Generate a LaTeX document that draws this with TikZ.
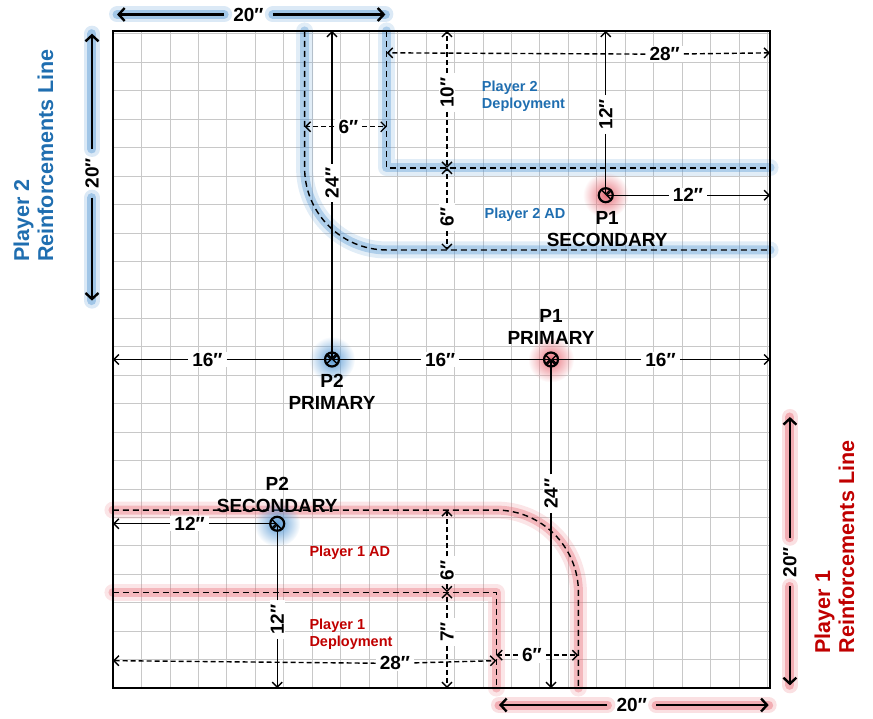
\documentclass[tikz,border=0pt]{standalone}
\usepackage{fontspec}
\setmainfont{Liberation Sans}
\usetikzlibrary{arrows.meta,fadings}
\tikzfading[name=glowfade,inner color=transparent!0,outer color=transparent!100]
\definecolor{p2blue}{HTML}{1F6EB0}
\definecolor{p1red}{HTML}{C00000}
\definecolor{glowblue}{HTML}{5B9BD5}
\definecolor{glowred}{HTML}{E8707A}
\definecolor{gridgray}{HTML}{C8C8C8}
\tikzset{
  zoneB/.style={draw=black,line width=1.4pt,dash pattern=on 6pt off 4pt,
    preaction={draw=glowblue,solid,line width=17pt,opacity=.18,line cap=round,line join=round},
    preaction={draw=glowblue,solid,line width=9pt,opacity=.38,line cap=round,line join=round}},
  zoneR/.style={draw=black,line width=1.4pt,dash pattern=on 6pt off 4pt,
    preaction={draw=glowred,solid,line width=17pt,opacity=.18,line cap=round,line join=round},
    preaction={draw=glowred,solid,line width=9pt,opacity=.38,line cap=round,line join=round}},
  dimS/.style={draw=black,line width=1.4pt,-{Straight Barb[length=5pt,width=10pt]}},
  dimD/.style={dimS,dash pattern=on 5pt off 3pt},
  reinB/.style={draw=black,line width=2.4pt,-{Straight Barb[length=6pt,width=13pt]},
    preaction={arrows=-,draw=glowblue,line width=16pt,opacity=.22,line cap=round},
    preaction={arrows=-,draw=glowblue,line width=9pt,opacity=.45,line cap=round}},
  reinR/.style={draw=black,line width=2.4pt,-{Straight Barb[length=6pt,width=13pt]},
    preaction={arrows=-,draw=glowred,line width=16pt,opacity=.22,line cap=round},
    preaction={arrows=-,draw=glowred,line width=9pt,opacity=.45,line cap=round}},
  lblD/.style={font=\fontsize{19}{21}\selectfont\bfseries,fill=white,inner sep=1pt,inner xsep=4pt},
  lblR/.style={font=\fontsize{19}{21}\selectfont\bfseries,inner sep=1pt,inner xsep=9pt},
  zoneTxt/.style={font=\fontsize{14.5}{17}\selectfont\bfseries,align=left,anchor=west},
  ptTxt/.style={font=\fontsize{19}{22}\selectfont\bfseries,align=center,inner sep=1pt},
  reinTxt/.style={font=\fontsize{21.5}{24}\selectfont\bfseries,align=left,rotate=90},
  obj/.style={circle,draw=black,line width=2.2pt,minimum size=14pt,inner sep=0pt},
  glowdot/.style={circle,fill=#1,minimum size=46pt,inner sep=0pt,path fading=glowfade},
}
\begin{document}
\begin{tikzpicture}[x=13.69pt,y=13.69pt]
  \useasboundingbox (-8.25,-2.26) rectangle (55.52,50.26);
  % table and grid
  \draw[gridgray,line width=0.6pt] (0,0) grid (48,48);

  % deployment and AD lines
  \draw[zoneB] (20,48) -- (20,38) -- (48,38);
  \draw[zoneB] (14,48) -- (14,38) arc (180:270:6) -- (48,32);
  \draw[zoneR] (0,7) -- (28,7) -- (28,0);
  \draw[zoneR] (0,13) -- (28,13) arc (90:0:6) -- (34,0);

  \node[zoneTxt,text=p2blue] (dep2) at (26.7,43.2) {Player 2\\Deployment};
  \node[zoneTxt,text=p2blue] (ad2) at (26.9,34.6) {Player 2 AD};
  \node[zoneTxt,text=p1red] (ad1) at (14.1,9.9) {Player 1 AD};
  \node[zoneTxt,text=p1red] (dep1) at (14.1,3.9) {Player 1\\Deployment};

  % objectives
  \node[glowdot=glowblue] at (16,24) {};
  \node[glowdot=glowred] at (32,24) {};
  \node[glowdot=glowred] at (36,36) {};
  \node[glowdot=glowblue] at (12,12) {};
  \coordinate (p2pri) at (16,24);
  \coordinate (p1pri) at (32,24);
  \coordinate (p1sec) at (36,36);
  \coordinate (p2sec) at (12,12);

  % edge points
  \coordinate (eL24) at (0,24);
  \coordinate (eR24) at (48,24);
  \coordinate (eT16) at (16,48);
  \coordinate (eB32) at (32,0);
  \coordinate (eT36) at (36,48);
  \coordinate (eR36) at (48,36);
  \coordinate (eL12) at (0,12);
  \coordinate (eB12) at (12,0);

  % solid measurements
  \node[lblD] (d16a) at (6.9,24) {16″};
  \draw[dimS] (d16a) -- (eL24);
  \draw[dimS] (d16a) -- (p2pri);
  \node[lblD] (d16b) at (23.9,24) {16″};
  \draw[dimS] (d16b) -- (p2pri);
  \draw[dimS] (d16b) -- (p1pri);
  \node[lblD] (d16c) at (40,24) {16″};
  \draw[dimS] (d16c) -- (p1pri);
  \draw[dimS] (d16c) -- (eR24);
  \node[lblD,rotate=90] (d24a) at (16,36.9) {24″};
  \draw[dimS] (d24a) -- (eT16);
  \draw[dimS] (d24a) -- (p2pri);
  \node[lblD,rotate=90] (d24b) at (32,14.2) {24″};
  \draw[dimS] (d24b) -- (p1pri);
  \draw[dimS] (d24b) -- (eB32);
  \node[lblD,rotate=90] (d12a) at (36,41.9) {12″};
  \draw[dimS] (d12a) -- (eT36);
  \draw[dimS] (d12a) -- (p1sec);
  \node[lblD] (d12b) at (42,36) {12″};
  \draw[dimS] (d12b) -- (p1sec);
  \draw[dimS] (d12b) -- (eR36);
  \node[lblD] (d12c) at (5.6,12) {12″};
  \draw[dimS] (d12c) -- (eL12);
  \draw[dimS] (d12c) -- (p2sec);
  \node[lblD,rotate=90] (d12d) at (12,5) {12″};
  \draw[dimS] (d12d) -- (p2sec);
  \draw[dimS] (d12d) -- (eB12);

  % dashed measurements
  \coordinate (a28l) at (20,46.4);
  \coordinate (a28r) at (48,46.4);
  \node[lblD] (d28a) at (40.3,46.3) {28″};
  \draw[dimD] (d28a) -- (a28l);
  \draw[dimD] (d28a) -- (a28r);
  \coordinate (a10t) at (24.4,48);
  \coordinate (a10b) at (24.4,38);
  \coordinate (a6b) at (24.4,32);
  \node[lblD,rotate=90] (d10) at (24.4,43.5) {10″};
  \draw[dimD] (d10) -- (a10t);
  \draw[dimD] (d10) -- (a10b);
  \node[lblD,rotate=90] (d6a) at (24.4,34.4) {6″};
  \draw[dimD] (d6a) -- (a10b);
  \draw[dimD] (d6a) -- (a6b);
  \coordinate (a6l) at (14,41);
  \coordinate (a6r) at (20,41);
  \node[lblD] (d6b) at (17.2,41) {6″};
  \draw[dimD] (d6b) -- (a6l);
  \draw[dimD] (d6b) -- (a6r);

  \coordinate (b28l) at (0,2);
  \coordinate (b28r) at (28,2);
  \node[lblD] (d28b) at (20.6,1.8) {28″};
  \draw[dimD] (d28b) -- (b28l);
  \draw[dimD] (d28b) -- (b28r);
  \coordinate (b13) at (24.4,13);
  \coordinate (b7) at (24.4,7);
  \coordinate (b0) at (24.4,0);
  \node[lblD,rotate=90] (d6c) at (24.4,8.6) {6″};
  \draw[dimD] (d6c) -- (b13);
  \draw[dimD] (d6c) -- (b7);
  \node[lblD,rotate=90] (d7) at (24.4,4.1) {7″};
  \draw[dimD] (d7) -- (b7);
  \draw[dimD] (d7) -- (b0);
  \coordinate (b6l) at (28,2.4);
  \coordinate (b6r) at (34,2.4);
  \node[lblD] (d6d) at (30.6,2.4) {6″};
  \draw[dimD] (d6d) -- (b6l);
  \draw[dimD] (d6d) -- (b6r);

  % reinforcement lines
  \coordinate (rTl) at (0.3,49.2);
  \coordinate (rTr) at (19.9,49.2);
  \node[lblR] (r20a) at (9.9,49.2) {20″};
  \draw[reinB] (r20a) -- (rTl);
  \draw[reinB] (r20a) -- (rTr);
  \coordinate (rLt) at (-1.53,47.8);
  \coordinate (rLb) at (-1.53,28.3);
  \node[lblR,rotate=90] (r20b) at (-1.53,37.6) {20″};
  \draw[reinB] (r20b) -- (rLt);
  \draw[reinB] (r20b) -- (rLb);
  \coordinate (rBl) at (28.2,-1.24);
  \coordinate (rBr) at (47.9,-1.24);
  \node[lblR] (r20c) at (37.9,-1.24) {20″};
  \draw[reinR] (r20c) -- (rBl);
  \draw[reinR] (r20c) -- (rBr);
  \coordinate (rRt) at (49.45,19.8);
  \coordinate (rRb) at (49.45,0.2);
  \node[lblR,rotate=90] (r20d) at (49.45,9.2) {20″};
  \draw[reinR] (r20d) -- (rRt);
  \draw[reinR] (r20d) -- (rRb);

  \node[reinTxt,text=p2blue] (rein2) at (-5.8,38.9) {Player 2\\Reinforcements Line};
  \node[reinTxt,text=p1red] (rein1) at (52.7,10.3) {Player 1\\Reinforcements Line};

  % objective markers and names
  \node[obj] (m2pri) at (p2pri) {};
  \node[obj] (m1pri) at (p1pri) {};
  \node[obj] (m1sec) at (p1sec) {};
  \node[obj] (m2sec) at (p2sec) {};
  \node[ptTxt,anchor=north] (n2pri) at (16,23.0) {P2\\PRIMARY};
  \node[ptTxt,anchor=south] (n1pri) at (32,25.0) {P1\\PRIMARY};
  \node[ptTxt,anchor=north] (n1sec) at (36.1,34.9) {P1\\SECONDARY};
  \node[ptTxt,anchor=south] (n2sec) at (12,12.7) {P2\\SECONDARY};

  \draw[line width=2.6pt] (0,0) rectangle (48,48);
\end{tikzpicture}
\end{document}
